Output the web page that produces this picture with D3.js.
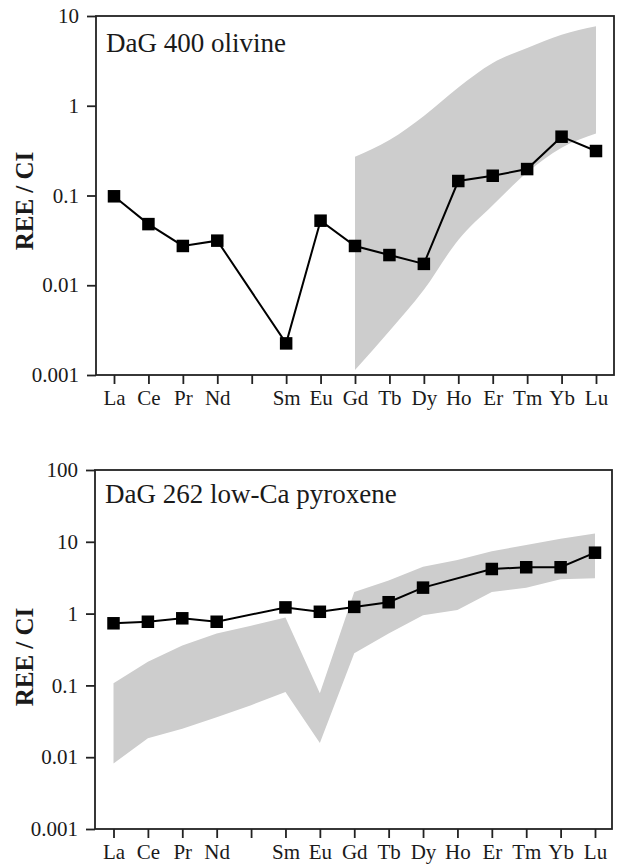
<!DOCTYPE html>
<html>
<head>
<meta charset="utf-8">
<script src="https://cdn.jsdelivr.net/npm/d3@7"></script>
<style>
  html, body { margin: 0; padding: 0; background: #fff; }
  svg { display: block; }
  text { font-family: "Liberation Serif", "Times New Roman", serif; fill: #1a1a1a; }
</style>
</head>
<body>
<svg id="chart" width="618" height="866"></svg>
<script>
// ---------- data ----------
const elements   = ["La","Ce","Pr","Nd","Pm","Sm","Eu","Gd","Tb","Dy","Ho","Er","Tm","Yb","Lu"];
const tickLabels = ["La","Ce","Pr","Nd","","Sm","Eu","Gd","Tb","Dy","Ho","Er","Tm","Yb","Lu"];

// Panel 1: DaG 400 olivine
const olivineTitle = "DaG 400 olivine";
const olivine = [0.098, 0.048, 0.0274, 0.0314, null, 0.00225, 0.0524, 0.0274, 0.0217, 0.0173, 0.145, 0.166, 0.197, 0.452, 0.313];
const olivineBandElements = ["Gd","Tb","Dy","Ho","Er","Tm","Yb","Lu"];
const olivineBandHigh = [0.27, 0.415, 0.77, 1.6, 3.0, 4.4, 6.2, 7.7];
const olivineBandLow  = [0.00114, 0.0031, 0.0089, 0.032, 0.078, 0.18, 0.34, 0.49];
const yTicksTop = [0.001, 0.01, 0.1, 1, 10];
const yTickLabelsTop = ["0.001", "0.01", "0.1", "1", "10"];

// Panel 2: DaG 262 low-Ca pyroxene
const pyroxeneTitle = "DaG 262 low-Ca pyroxene";
const pyroxene = [0.733, 0.77, 0.86, 0.77, null, 1.22, 1.06, 1.24, 1.44, 2.3, null, 4.18, 4.42, 4.42, 7.05];
const pyroxeneBandHigh = [0.107, 0.214, 0.36, 0.53, 0.68, 0.88, 0.078, 2.0, 2.9, 4.5, 5.6, 7.4, 9.0, 11.0, 13.1];
const pyroxeneBandLow  = [0.0082, 0.0183, 0.025, 0.036, 0.053, 0.081, 0.0158, 0.28, 0.53, 0.95, 1.12, 2.0, 2.3, 3.0, 3.1];
const yTicksBottom = [0.001, 0.01, 0.1, 1, 10, 100];
const yTickLabelsBottom = ["0.001", "0.01", "0.1", "1", "10", "100"];

const yAxisTitle = "REE / CI";

// ---------- drawing ----------
const svg = d3.select("#chart");
const ink = "#1a1a1a";
const bandColor = "#cdcdcd";

function panel(cfg) {
  const g = svg.append("g");
  const x = d3.scalePoint().domain(elements).range([cfg.xFirst, cfg.xLast]).padding(0);
  const y = d3.scaleLog().domain(cfg.yDomain).range([cfg.bottom, cfg.top]);

  // band
  const area = d3.area()
    .x(d => x(d.el))
    .y0(d => y(d.lo))
    .y1(d => y(d.hi))
    .curve(cfg.bandCurve);
  const bandData = cfg.bandEls.map((el, i) => ({el, lo: cfg.bandLow[i], hi: cfg.bandHigh[i]}));
  g.append("path").datum(bandData).attr("d", area).attr("fill", bandColor).attr("stroke", "none");

  // box
  g.append("rect")
    .attr("x", cfg.left).attr("y", cfg.top)
    .attr("width", cfg.right - cfg.left).attr("height", cfg.bottom - cfg.top)
    .attr("fill", "none").attr("stroke", "#222").attr("stroke-width", 1.8);

  // y axis
  const ya = g.append("g").attr("transform", `translate(${cfg.left},0)`)
    .call(d3.axisLeft(y).tickValues(cfg.yTicks)
      .tickFormat((d, i) => cfg.yTickLabels[i]).tickSize(9).tickPadding(8).tickSizeOuter(0));
  ya.select(".domain").remove();
  ya.selectAll(".tick line").attr("stroke", "#222").attr("stroke-width", 1.8);
  ya.selectAll(".tick text").attr("font-size", 21).attr("font-family", "'Liberation Serif', 'Times New Roman', serif").attr("fill", ink);

  // x axis
  const xa = g.append("g").attr("transform", `translate(0,${cfg.bottom})`)
    .call(d3.axisBottom(x).tickFormat((d, i) => tickLabels[i]).tickSize(9).tickPadding(6).tickSizeOuter(0));
  xa.select(".domain").remove();
  xa.selectAll(".tick line").attr("stroke", "#222").attr("stroke-width", 1.8);
  xa.selectAll(".tick text").attr("font-size", 21).attr("font-family", "'Liberation Serif', 'Times New Roman', serif").attr("fill", ink);

  // data line + markers
  const pts = elements.map((el, i) => ({el, v: cfg.values[i]})).filter(d => d.v != null);
  g.append("path").datum(pts)
    .attr("d", d3.line().x(d => x(d.el)).y(d => y(d.v)))
    .attr("fill", "none").attr("stroke", "#000").attr("stroke-width", 2);
  const s = 12.5;
  g.selectAll("rect.mk").data(pts).join("rect").attr("class", "mk")
    .attr("x", d => x(d.el) - s / 2).attr("y", d => y(d.v) - s / 2)
    .attr("width", s).attr("height", s).attr("fill", "#000");

  // title
  g.append("text").attr("x", cfg.left + 10).attr("y", cfg.top + cfg.titleDy)
    .attr("font-size", 27).text(cfg.title);

  // y axis title
  g.append("text")
    .attr("transform", `translate(${cfg.yTitleX},${cfg.yTitleY}) rotate(-90)`)
    .attr("text-anchor", "middle").attr("font-size", 25).attr("font-weight", "bold")
    .text(yAxisTitle);
}

panel({
  left: 96, right: 614, top: 16, bottom: 375,
  xFirst: 114, xLast: 596,
  yDomain: [0.001, 10], yTicks: yTicksTop, yTickLabels: yTickLabelsTop,
  values: olivine,
  bandEls: olivineBandElements, bandLow: olivineBandLow, bandHigh: olivineBandHigh,
  bandCurve: d3.curveMonotoneX,
  title: olivineTitle, titleDy: 36,
  yTitleX: 33, yTitleY: 201
});

panel({
  left: 95, right: 612, top: 470, bottom: 829,
  xFirst: 113.5, xLast: 595,
  yDomain: [0.001, 100], yTicks: yTicksBottom, yTickLabels: yTickLabelsBottom,
  values: pyroxene,
  bandEls: elements, bandLow: pyroxeneBandLow, bandHigh: pyroxeneBandHigh,
  bandCurve: d3.curveLinear,
  title: pyroxeneTitle, titleDy: 33,
  yTitleX: 33, yTitleY: 657
});
</script>
</body>
</html>
